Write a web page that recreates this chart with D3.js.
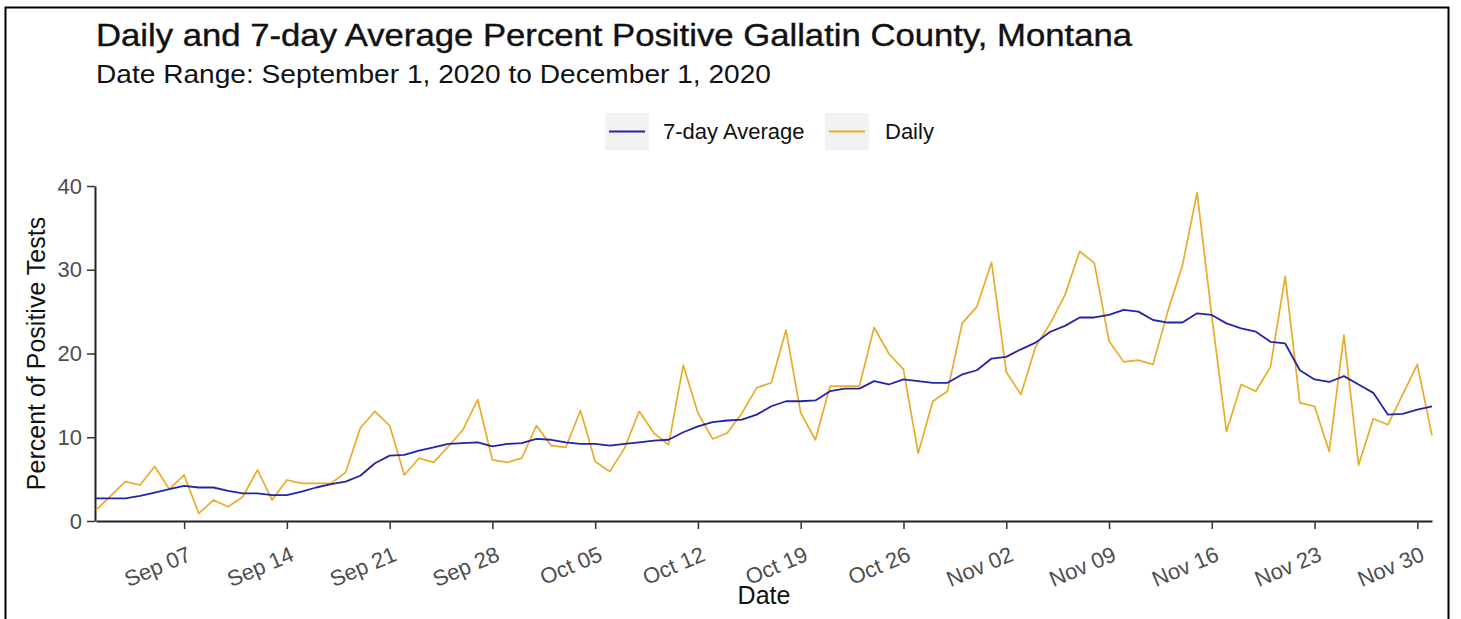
<!DOCTYPE html>
<html lang="en">
<head>
<meta charset="UTF-8" />
<title>Daily and 7-day Average Percent Positive</title>
<script src="https://cdn.jsdelivr.net/npm/d3@7/dist/d3.min.js"></script>
<style>
    body { margin: 0; background: #fff; }
    svg { display: block; font-family: "Liberation Sans", Arial, sans-serif; }
</style>
</head>
<body>
<script>
    // values, one per day starting Sep 1 2020
    const startDate = "2020-09-01";
    const daily = [
        1.3, 3.0, 4.7, 4.3, 6.5, 3.8, 5.5, 0.9, 2.5, 1.7,
        2.9, 6.1, 2.5, 4.9, 4.5, 4.5, 4.5, 5.8, 11.1, 13.1,
        11.4, 5.5, 7.5, 7.0, 8.9, 10.9, 14.5, 7.3, 7.0, 7.5,
        11.4, 9.0, 8.8, 13.2, 7.1, 5.9, 8.7, 13.1, 10.5, 9.1,
        18.6, 12.9, 9.8, 10.5, 12.9, 15.9, 16.5, 22.8, 12.9, 9.7,
        16.1, 16.1, 16.1, 23.1, 20.0, 18.1, 8.1, 14.3, 15.5, 23.6,
        25.6, 30.9, 17.8, 15.1, 20.8, 23.6, 27.0, 32.2, 30.8, 21.5,
        19.0, 19.2, 18.7, 25.0, 30.5, 39.2, 24.5, 10.7, 16.3, 15.5,
        18.4, 29.2, 14.1, 13.7, 8.3, 22.2, 6.7, 12.2, 11.5, 15.1,
        18.7, 10.2
    ];
    const avg7 = [
        2.7, 2.7, 2.7, 3.0, 3.4, 3.8, 4.2, 4.0, 4.0, 3.6,
        3.3, 3.3, 3.1, 3.1, 3.5, 4.0, 4.4, 4.7, 5.4, 6.9,
        7.8, 7.9, 8.4, 8.8, 9.2, 9.3, 9.4, 8.9, 9.2, 9.3,
        9.8, 9.7, 9.4, 9.2, 9.2, 9.0, 9.2, 9.4, 9.6, 9.7,
        10.6, 11.3, 11.8, 12.0, 12.1, 12.7, 13.7, 14.3, 14.3, 14.4,
        15.5, 15.8, 15.8, 16.7, 16.3, 16.9, 16.7, 16.5, 16.5, 17.5,
        18.0, 19.4, 19.6, 20.5, 21.3, 22.6, 23.3, 24.3, 24.3, 24.6,
        25.2, 25.0, 24.0, 23.7, 23.7, 24.8, 24.6, 23.6, 23.0, 22.6,
        21.4, 21.2, 18.0, 16.9, 16.6, 17.3, 16.3, 15.3, 12.7, 12.8,
        13.3, 13.7
    ];
    const xTicks = ["2020-09-07", "2020-09-14", "2020-09-21", "2020-09-28", "2020-10-05",
        "2020-10-12", "2020-10-19", "2020-10-26", "2020-11-02", "2020-11-09",
        "2020-11-16", "2020-11-23", "2020-11-30"];
    const yTicks = [0, 10, 20, 30, 40];
    const seriesNames = ["7-day Average", "Daily"];
    const seriesColors = ["#2424a6", "#e9ac28"];

    const W = 1461, H = 619;
    const margin = { left: 96, right: 29, top: 186, bottom: 98 };

    const parse = d3.utcParse("%Y-%m-%d");
    const start = parse(startDate);
    const dates = daily.map((d, i) => d3.utcDay.offset(start, i));

    const svg = d3.select("body").append("svg")
        .attr("width", W)
        .attr("height", H);

    svg.append("rect").attr("width", W).attr("height", H).attr("fill", "#fff");
    // outer frame
    svg.append("rect")
        .attr("x", 5.5).attr("y", 7.5)
        .attr("width", 1443).attr("height", 640)
        .attr("fill", "none").attr("stroke", "#000").attr("stroke-width", 2);

    const x = d3.scaleUtc()
        .domain([dates[0], dates[dates.length - 1]])
        .range([margin.left, W - margin.right]);
    const y = d3.scaleLinear()
        .domain([0, 40])
        .range([H - margin.bottom, margin.top]);

    // titles
    svg.append("text")
        .attr("x", 96).attr("y", 46)
        .attr("font-size", 32).attr("fill", "#111")
        .attr("stroke", "#111").attr("stroke-width", 0.4)
        .attr("textLength", 1036).attr("lengthAdjust", "spacingAndGlyphs")
        .text("Daily and 7-day Average Percent Positive Gallatin County, Montana");
    svg.append("text")
        .attr("x", 96).attr("y", 83)
        .attr("font-size", 26).attr("fill", "#111")
        .attr("textLength", 675).attr("lengthAdjust", "spacingAndGlyphs")
        .text("Date Range: September 1, 2020 to December 1, 2020");

    // axes
    const xAxis = svg.append("g")
        .attr("transform", `translate(0,${y(0)})`)
        .call(d3.axisBottom(x)
            .tickValues(xTicks.map(parse))
            .tickFormat(d3.utcFormat("%b %d"))
            .tickSize(8).tickSizeOuter(0));
    xAxis.select(".domain").attr("stroke", "#222").attr("stroke-width", 2);
    xAxis.selectAll(".tick line").attr("stroke", "#333").attr("stroke-width", 1.5);
    xAxis.selectAll(".tick text")
        .attr("font-size", 22).attr("fill", "#4d4d4d")
        .attr("text-anchor", "end")
        .attr("transform", "translate(8,39) rotate(-23)")
        .attr("y", 0).attr("dy", 0).attr("x", 0);

    const yAxis = svg.append("g")
        .attr("transform", `translate(${margin.left - 1},0)`)
        .call(d3.axisLeft(y).tickValues(yTicks).tickSize(8).tickSizeOuter(0));
    yAxis.select(".domain").attr("stroke", "#222").attr("stroke-width", 2);
    yAxis.selectAll(".tick line").attr("stroke", "#333").attr("stroke-width", 1.5);
    yAxis.selectAll(".tick text")
        .attr("font-size", 22).attr("fill", "#4d4d4d")
        .attr("x", -13);

    svg.append("text")
        .attr("x", x.range()[0] / 2 + x.range()[1] / 2).attr("y", 604)
        .attr("text-anchor", "middle").attr("font-size", 25).attr("fill", "#111")
        .text("Date");
    svg.append("text")
        .attr("transform", `translate(45,${(y(0) + y(40)) / 2}) rotate(-90)`)
        .attr("text-anchor", "middle").attr("font-size", 25).attr("fill", "#111")
        .text("Percent of Positive Tests");

    // lines
    const line = vals => d3.line()
        .x((d, i) => x(dates[i]))
        .y(d => y(d))(vals);

    svg.append("path")
        .attr("d", line(daily))
        .attr("fill", "none")
        .attr("stroke", seriesColors[1])
        .attr("stroke-width", 1.7)
        .attr("stroke-linejoin", "round");
    svg.append("path")
        .attr("d", line(avg7))
        .attr("fill", "none")
        .attr("stroke", seriesColors[0])
        .attr("stroke-width", 1.8)
        .attr("stroke-linejoin", "round");

    // legend
    const legendX = [605, 825];
    const labelX = [663, 885];
    const lg = svg.append("g");
    seriesNames.forEach((name, i) => {
        lg.append("rect")
            .attr("x", legendX[i]).attr("y", 113)
            .attr("width", 44).attr("height", 37)
            .attr("fill", "#f2f2f2");
        lg.append("line")
            .attr("x1", legendX[i] + 4).attr("x2", legendX[i] + 40)
            .attr("y1", 131.5).attr("y2", 131.5)
            .attr("stroke", seriesColors[i]).attr("stroke-width", 1.8);
        lg.append("text")
            .attr("x", labelX[i]).attr("y", 139)
            .attr("font-size", 22).attr("fill", "#111")
            .text(name);
    });
</script>
</body>
</html>
